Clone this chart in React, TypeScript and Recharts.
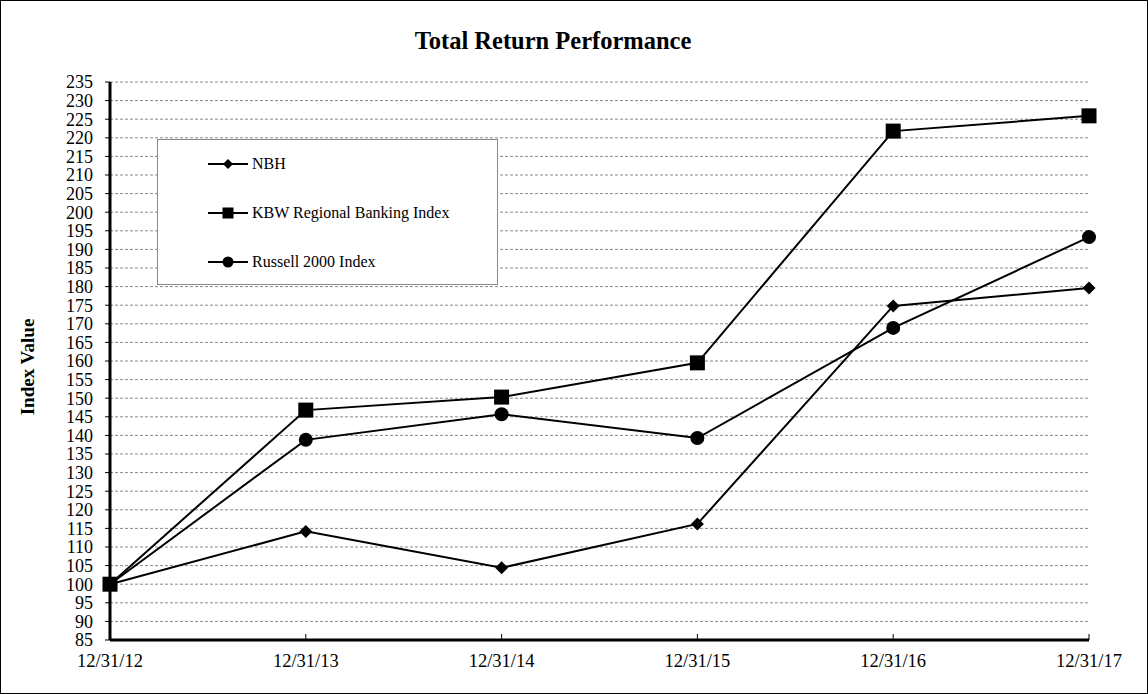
import React from 'react';
import { LineChart, Line, XAxis, YAxis, CartesianGrid, Customized } from 'recharts';

const categories = ['12/31/12', '12/31/13', '12/31/14', '12/31/15', '12/31/16', '12/31/17'];
const nbh = [100, 114.2, 104.4, 116.2, 174.8, 179.6];
const kbw = [100, 146.8, 150.3, 159.5, 221.8, 225.9];
const russell = [100, 138.8, 145.7, 139.3, 168.9, 193.3];
const yTicks = [85, 90, 95, 100, 105, 110, 115, 120, 125, 130, 135, 140, 145, 150, 155, 160, 165, 170, 175, 180, 185, 190, 195, 200, 205, 210, 215, 220, 225, 230, 235];
const seriesNames = ['NBH', 'KBW Regional Banking Index', 'Russell 2000 Index'];

const data = categories.map((c, i) => ({ date: c, nbh: nbh[i], kbw: kbw[i], russell: russell[i] }));

const FONT = '"Liberation Serif", "Times New Roman", serif';

const Diamond = (props: any) => {
  const { cx, cy, r } = props;
  if (cx == null || cy == null) return null;
  return <path d={`M${cx},${cy - r} L${cx + r},${cy} L${cx},${cy + r} L${cx - r},${cy} Z`} fill="#000" />;
};
const Square = (props: any) => {
  const { cx, cy, r } = props;
  if (cx == null || cy == null) return null;
  return <rect x={cx - r} y={cy - r} width={2 * r} height={2 * r} fill="#000" />;
};
const Circle = (props: any) => {
  const { cx, cy, r } = props;
  if (cx == null || cy == null) return null;
  return <circle cx={cx} cy={cy} r={r} fill="#000" />;
};

const LegendBox = () => {
  const markers = [
    <path key="d" d="M20,0 L25,5 L20,10 L15,5 Z" fill="#000" />,
    <rect key="s" x={14.5} y={-0.5} width={11} height={11} fill="#000" />,
    <circle key="c" cx={20} cy={5} r={5.5} fill="#000" />,
  ];
  return (
    <div style={{ position: 'absolute', left: 157, top: 139, width: 341, height: 146, border: '1px solid #888', boxSizing: 'border-box', background: '#fff', zIndex: 1 }}>
      {seriesNames.map((n, i) => (
        <div key={n} style={{ position: 'absolute', left: 50, top: 15 + i * 49, display: 'flex', alignItems: 'center', height: 18 }}>
          <svg width={42} height={12} style={{ overflow: 'visible' }}>
            <line x1={0} y1={6} x2={40} y2={6} stroke="#000" strokeWidth={2} />
            <g transform="translate(0,1)">{markers[i]}</g>
          </svg>
          <span style={{ fontFamily: FONT, fontSize: 16, color: '#000', marginLeft: 2 }}>{n}</span>
        </div>
      ))}
    </div>
  );
};

export default function App() {
  return (
    <div style={{ position: 'absolute', left: 0, top: 0, width: 1148, height: 694, background: '#fff' }}>
      <LineChart width={1148} height={694} data={data} margin={{ top: 82, right: 59, bottom: 24, left: 50 }}>
        <CartesianGrid vertical={false} stroke="#888" strokeDasharray="3 2" />
        <XAxis dataKey="date" scale="point" padding={{ left: 0, right: 0 }} height={30}
          axisLine={{ stroke: '#000', strokeWidth: 3 }} tickLine={{ stroke: '#000' }} tickSize={-6} tickMargin={20}
          tick={{ fill: '#000', fontFamily: FONT, fontSize: 18.5 }} interval={0} />
        <XAxis xAxisId="top" dataKey="date" scale="point" orientation="top" height={0} tick={false} tickLine={false}
          axisLine={{ stroke: '#000', strokeWidth: 3 }} />
        <YAxis domain={[85, 235]} ticks={yTicks} interval={0} width={60} type="number"
          axisLine={{ stroke: '#000', strokeWidth: 3 }} tickLine={{ stroke: '#000' }} tickSize={5} tickMargin={12}
          tick={{ fill: '#000', fontFamily: FONT, fontSize: 18 }} />
        <YAxis yAxisId="right" orientation="right" width={0} tick={false} tickLine={false} domain={[85, 235]} type="number"
          axisLine={{ stroke: '#000', strokeWidth: 3 }} />
        <Line dataKey="nbh" name={seriesNames[0]} stroke="#000" strokeWidth={2} isAnimationActive={false}
          dot={(p: any) => <Diamond key={`d${p.index}`} cx={p.cx} cy={p.cy} r={6.5} />} activeDot={false} />
        <Line dataKey="kbw" name={seriesNames[1]} stroke="#000" strokeWidth={2} isAnimationActive={false}
          dot={(p: any) => <Square key={`s${p.index}`} cx={p.cx} cy={p.cy} r={7.5} />} activeDot={false} />
        <Line dataKey="russell" name={seriesNames[2]} stroke="#000" strokeWidth={2} isAnimationActive={false}
          dot={(p: any) => <Circle key={`c${p.index}`} cx={p.cx} cy={p.cy} r={7} />} activeDot={false} />
        <Customized component={() => (
          <g>
            <text x={553} y={49} textAnchor="middle" fontFamily={FONT} fontWeight="bold" fontSize={24.5} fill="#000">Total Return Performance</text>
            <text x={34} y={367} textAnchor="middle" fontFamily={FONT} fontWeight="bold" fontSize={19} fill="#000" transform="rotate(-90 34 367)">Index Value</text>
          </g>
        )} />
      </LineChart>
      <LegendBox />
      <div style={{ position: 'absolute', left: 0, top: 0, width: 1148, height: 694, border: '1px solid #000', boxSizing: 'border-box', pointerEvents: 'none', zIndex: 2 }} />
    </div>
  );
}
